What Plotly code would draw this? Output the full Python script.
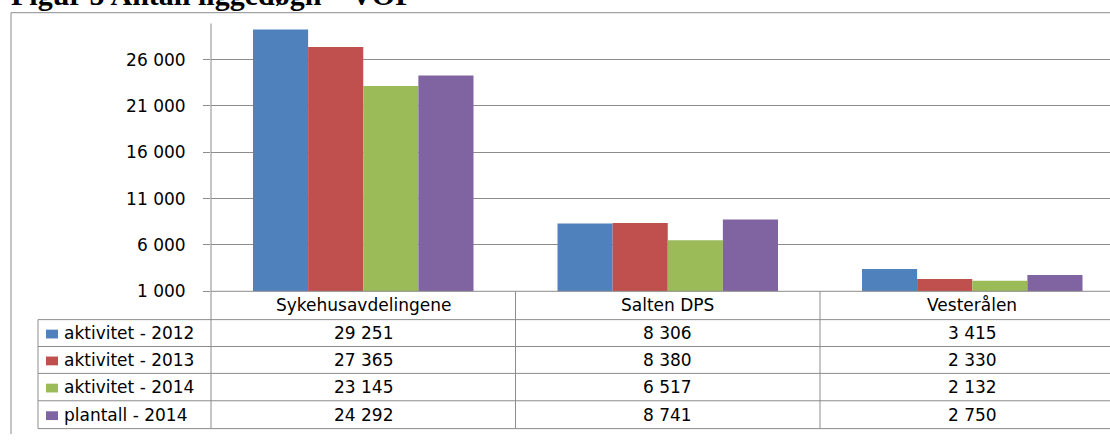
import plotly.graph_objects as go

# ---- data ----
categories = ["Sykehusavdelingene", "Salten DPS", "Vesterålen"]
series_names = ["aktivitet - 2012", "aktivitet - 2013", "aktivitet - 2014", "plantall - 2014"]
aktivitet_2012 = [29251, 8306, 3415]
aktivitet_2013 = [27365, 8380, 2330]
aktivitet_2014 = [23145, 6517, 2132]
plantall_2014 = [24292, 8741, 2750]
tick_values = [1000, 6000, 11000, 16000, 21000, 26000]
tick_labels = ["1 000", "6 000", "11 000", "16 000", "21 000", "26 000"]
title_text = "Figur 5 Antall liggedøgn – VOP"

series_values = [aktivitet_2012, aktivitet_2013, aktivitet_2014, plantall_2014]
colors = ["#4F81BD", "#C0504D", "#9BBB59", "#8064A2"]

W, H = 1110, 444
GRID = "#8c8c8c"
FONT = "DejaVu Sans"
FS = 17


def fx(px):
    return px / W


def fy(py):
    return 1 - py / H


def fmt(v):
    return f"{v:,}".replace(",", " ")


# plot-area geometry (pixels)
AX_L, AX_T, AX_B = 211, 24, 298
ROW_Y = [298, 327, 354.5, 382, 410, 438.5]
LEG_L = 38
CAT_W = 304.5

fig = go.Figure()
for name, vals, col in zip(series_names, series_values, colors):
    fig.add_trace(go.Bar(
        x=list(range(len(categories))), y=vals, name=name,
        marker=dict(color=col, line=dict(width=0)),
        hoverinfo="skip",
    ))

x_span = (W - AX_L) / CAT_W
fig.update_layout(
    width=W, height=H,
    margin=dict(l=0, r=0, t=0, b=0),
    paper_bgcolor="white", plot_bgcolor="white",
    barmode="group", bargap=84 / CAT_W, bargroupgap=0,
    showlegend=False,
    font=dict(family=FONT, size=FS, color="black"),
    xaxis=dict(domain=[fx(AX_L), 1], range=[-0.5, -0.5 + x_span],
               showticklabels=False, showgrid=False, zeroline=False,
               showline=False, ticks=""),
    yaxis=dict(domain=[fy(AX_B), fy(AX_T)],
               range=[1000, 1000 + (AX_B - AX_T) / 47.4 * 5000],
               tickvals=tick_values, ticktext=tick_labels,
               ticks="outside", ticklen=7, tickcolor=GRID, tickwidth=1,
               ticklabelstandoff=14,
               showgrid=True, gridcolor=GRID, gridwidth=1,
               zeroline=False, showline=False,
               tickfont=dict(family=FONT, size=FS, color="black")),
)

shapes = []


def hline(y, x0, x1):
    shapes.append(dict(type="line", xref="paper", yref="paper",
                       x0=fx(x0), x1=fx(x1), y0=fy(y), y1=fy(y),
                       line=dict(color=GRID, width=1)))


def vline_px(x, y0, y1):
    shapes.append(dict(type="line", xref="paper", yref="paper",
                       x0=fx(x), x1=fx(x), y0=fy(y0), y1=fy(y1),
                       line=dict(color=GRID, width=1)))


# outer chart frame
hline(13, 11, W)
vline_px(11, 13, H)

# value axis line continuing down through the data table
vline_px(AX_L, AX_T, ROW_Y[-1])
# category axis line and table row lines
hline(ROW_Y[0], AX_L, W)
for y in ROW_Y[1:]:
    hline(y, LEG_L, W)
vline_px(LEG_L, ROW_Y[1], ROW_Y[-1])
# category dividers in the table, placed on the category axis
for b in [0.5, 1.5]:
    shapes.append(dict(type="line", xref="x", yref="paper",
                       x0=b, x1=b, y0=fy(ROW_Y[0]), y1=fy(ROW_Y[-1]),
                       line=dict(color=GRID, width=1)))

annotations = []
# category labels in the header row
for i, c in enumerate(categories):
    annotations.append(dict(x=i, xref="x", y=fy((ROW_Y[0] + ROW_Y[1]) / 2), yref="paper",
                            text=c, showarrow=False, xanchor="center", yanchor="middle",
                            font=dict(family=FONT, size=FS, color="black")))

# legend keys and table values
for r, (name, vals, col) in enumerate(zip(series_names, series_values, colors)):
    yc = (ROW_Y[r + 1] + ROW_Y[r + 2]) / 2
    shapes.append(dict(type="rect", xref="paper", yref="paper",
                       x0=fx(46), x1=fx(58), y0=fy(yc - 3.5), y1=fy(yc + 5.5),
                       fillcolor=col, line=dict(width=0)))
    annotations.append(dict(x=fx(62), xref="paper", y=fy(yc), yref="paper",
                            text=name, showarrow=False, xanchor="left", yanchor="middle",
                            font=dict(family=FONT, size=FS, color="black")))
    for i, v in enumerate(vals):
        annotations.append(dict(x=i, xref="x", y=fy(yc), yref="paper",
                                text=fmt(v), showarrow=False,
                                xanchor="center", yanchor="middle",
                                font=dict(family=FONT, size=FS, color="black")))

# figure caption above the frame
annotations.append(dict(x=fx(9), xref="paper", y=fy(-6), yref="paper",
                        text=f"<b>{title_text}</b>", showarrow=False,
                        xanchor="left", yanchor="middle",
                        font=dict(family="Liberation Serif", size=30, color="black")))

fig.update_layout(shapes=shapes, annotations=annotations)

# let the figure fill the page edge to edge
post = "document.body.style.margin = '0';"
fig.write_html("out.html", post_script=post)
